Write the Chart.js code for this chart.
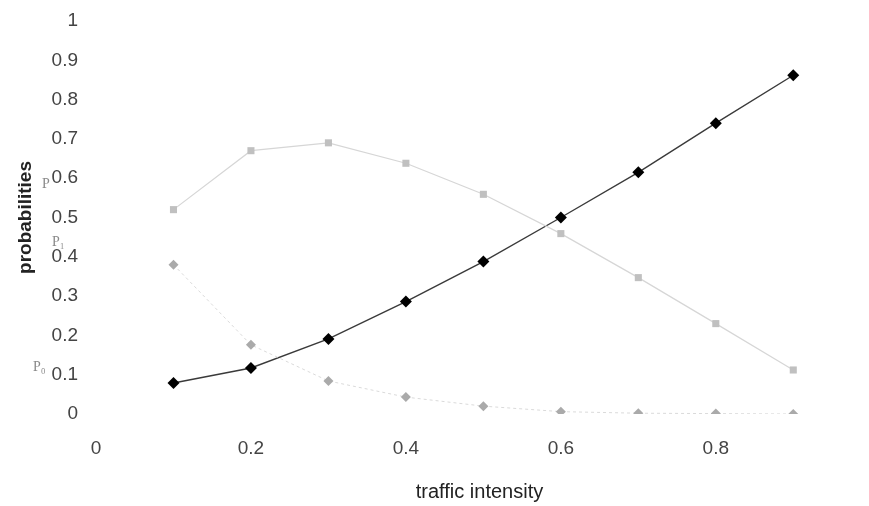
<!DOCTYPE html>
<html>
<head>
<meta charset="utf-8">
<script src="https://cdn.jsdelivr.net/npm/chart.js@4"></script>
<style>
  html, body { margin: 0; padding: 0; background: #fff; overflow: hidden; }
  #wrap { width: 869px; height: 506px; }
</style>
</head>
<body>
<div id="wrap"><canvas id="chart" width="869" height="506"></canvas></div>
<script>
// traffic intensity (x) and the three probability curves
const intensity = [0.1, 0.2, 0.3, 0.4, 0.5, 0.6, 0.7, 0.8, 0.9];
const blackSeries = [0.079, 0.117, 0.191, 0.286, 0.388, 0.5, 0.615, 0.74, 0.862];
const squareSeries = [0.52, 0.67, 0.69, 0.638, 0.559, 0.459, 0.347, 0.23, 0.112];
const lowSeries = [0.38, 0.176, 0.084, 0.043, 0.02, 0.006, 0.002, 0.001, 0.0];
const xTicks = [0, 0.2, 0.4, 0.6, 0.8];
const yTicks = [0, 0.1, 0.2, 0.3, 0.4, 0.5, 0.6, 0.7, 0.8, 0.9, 1];

const toPoints = (vals) => intensity.map((x, i) => ({ x: x, y: vals[i] }));

// small P labels printed beside the y axis
const sideLabels = {
  id: "sideLabels",
  afterDraw(chart) {
    const ctx = chart.ctx;
    ctx.save();
    ctx.fillStyle = "#8a8a8a";
    ctx.font = "14px 'Liberation Serif', serif";
    ctx.textBaseline = "middle";
    ctx.fillText("P", 42, 184);
    ctx.fillText("P\u2081", 52, 242);
    ctx.fillText("P\u2080", 33, 367);
    ctx.restore();
  },
};

new Chart(document.getElementById("chart"), {
  type: "scatter",
  data: {
    datasets: [
      {
        label: "low",
        data: toPoints(lowSeries),
        showLine: true,
        borderColor: "#dadada",
        borderWidth: 1,
        borderDash: [3, 3],
        backgroundColor: "#aaaaaa",
        pointStyle: "rectRot",
        pointRadius: 5,
        pointBorderWidth: 0,
      },
      {
        label: "squares",
        data: toPoints(squareSeries),
        showLine: true,
        borderColor: "#d6d6d6",
        borderWidth: 1.2,
        backgroundColor: "#c0c0c0",
        pointStyle: "rect",
        pointRadius: 5,
        pointBorderWidth: 0,
      },
      {
        label: "black",
        data: toPoints(blackSeries),
        showLine: true,
        borderColor: "#3a3a3a",
        borderWidth: 1.4,
        backgroundColor: "#000",
        pointStyle: "rectRot",
        pointRadius: 6,
        pointBorderWidth: 0,
      },
    ],
  },
  options: {
    responsive: false,
    animation: false,
    layout: { padding: { top: 21, right: 0, bottom: 0, left: 0 } },
    plugins: { legend: { display: false }, tooltip: { enabled: false } },
    scales: {
      x: {
        type: "linear",
        min: 0,
        max: 0.99,
        afterBuildTicks: (scale) => {
          scale.ticks = xTicks.map((v) => ({ value: v }));
        },
        afterFit: (scale) => {
          scale.height = 92;
        },
        grid: { display: false, drawTicks: false },
        border: { display: false },
        ticks: {
          padding: 23,
          color: "#444",
          font: { family: "'Liberation Sans', Arial, sans-serif", size: 19 },
          callback: (v) => String(v),
        },
        title: {
          display: true,
          text: "traffic intensity",
          color: "#222",
          padding: { top: 0, bottom: 2 },
          font: { family: "'Liberation Sans', Arial, sans-serif", size: 20 },
        },
      },
      y: {
        type: "linear",
        min: 0,
        max: 1,
        afterBuildTicks: (scale) => {
          scale.ticks = yTicks.map((v) => ({ value: v }));
        },
        afterFit: (scale) => {
          scale.width = 96;
          scale.paddingTop = 0;
        },
        grid: { display: false, drawTicks: false },
        border: { display: false },
        ticks: {
          padding: 18,
          color: "#444",
          font: { family: "'Liberation Sans', Arial, sans-serif", size: 19 },
          callback: (v) => String(v),
        },
        title: {
          display: true,
          text: "probabilities",
          color: "#222",
          padding: { top: 14, bottom: 0 },
          font: { family: "'Liberation Sans', Arial, sans-serif", size: 19, weight: "bold" },
        },
      },
    },
  },
  plugins: [sideLabels],
});
</script>
</body>
</html>
